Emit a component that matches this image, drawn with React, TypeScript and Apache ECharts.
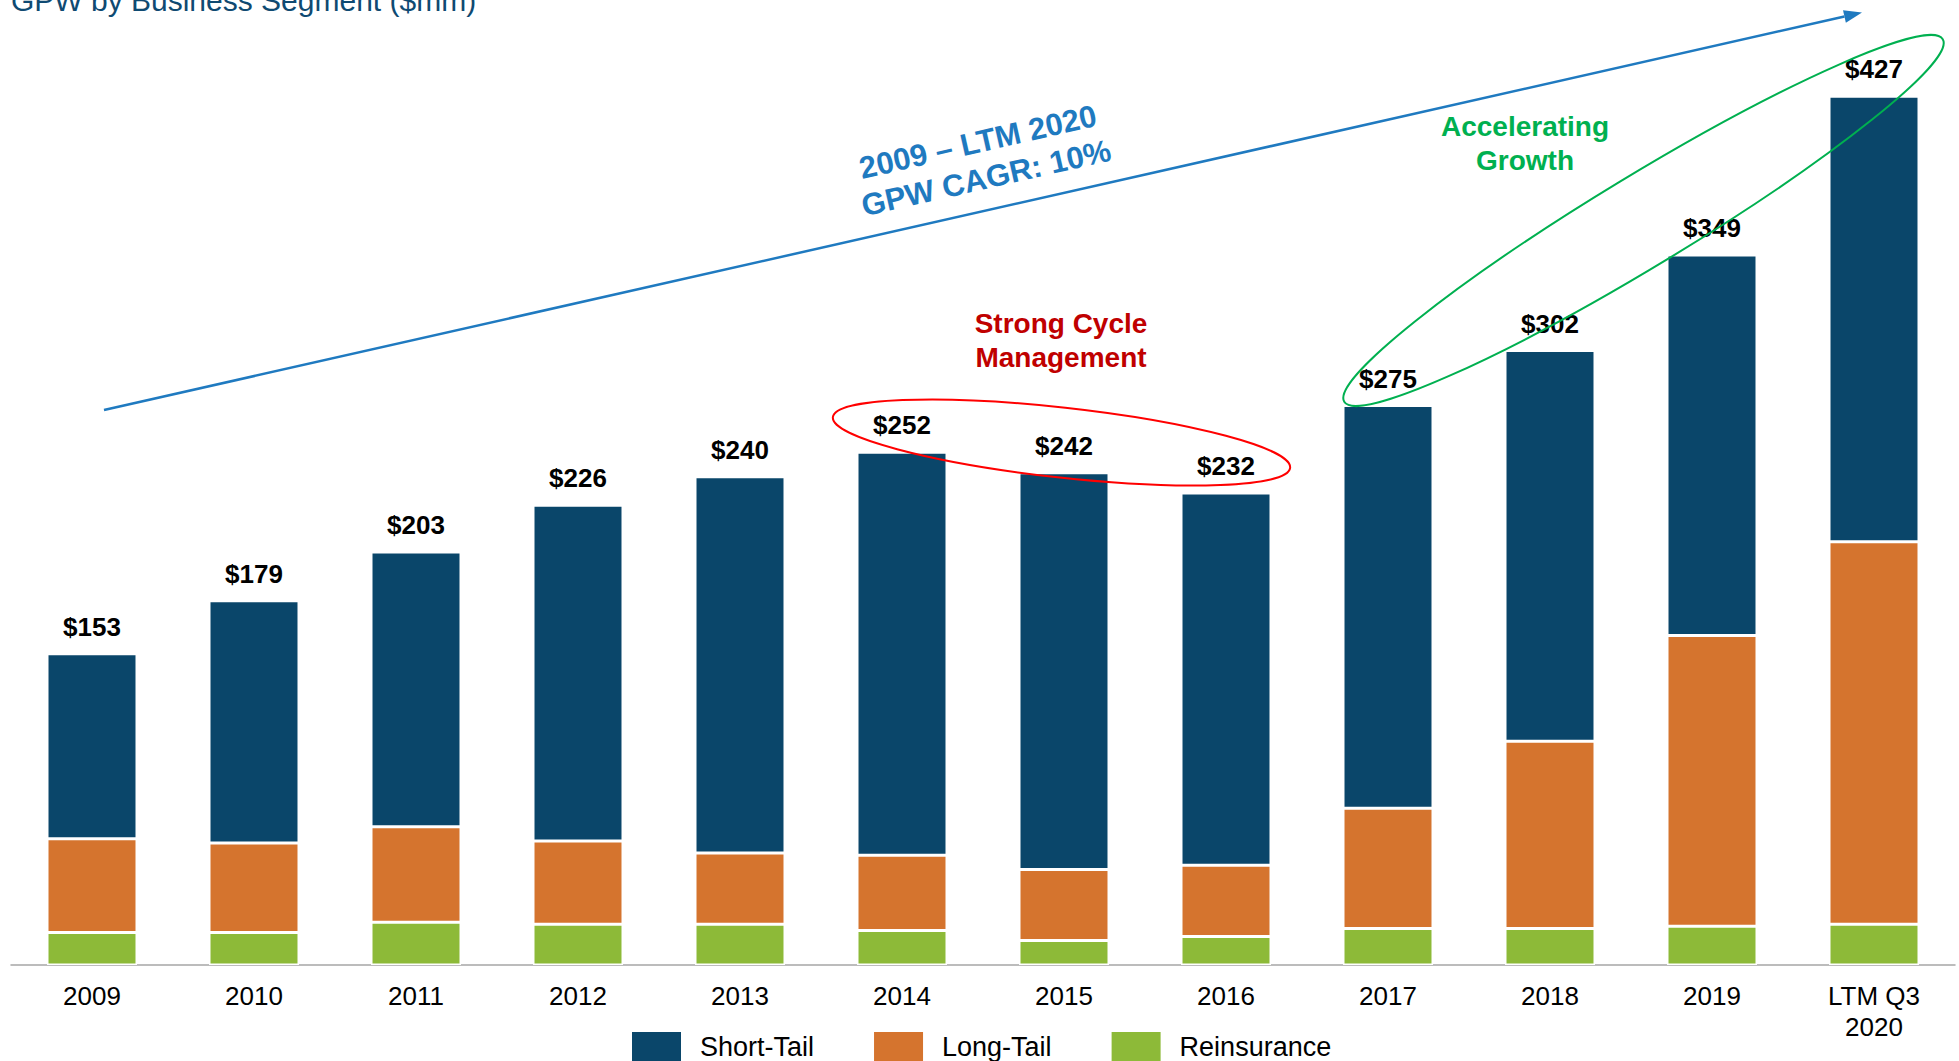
import React, { useEffect, useRef } from "react";
import * as echarts from "echarts";

const categories = ["2009", "2010", "2011", "2012", "2013", "2014", "2015", "2016", "2017", "2018", "2019", "LTM Q3\n2020"];
const reinsurance = [16, 16, 21, 20, 20, 17, 12, 14, 18, 18, 19, 20];
const longTail = [46, 44, 47, 41, 35, 37, 35, 35, 59, 92, 143, 188];
const shortTail = [91, 119, 135, 165, 185, 198, 195, 183, 198, 192, 187, 219];
const totals = [153, 179, 203, 226, 240, 252, 242, 232, 275, 302, 349, 427];
const seriesNames = ["Short-Tail", "Long-Tail", "Reinsurance"];

const FONT = '"Liberation Sans", Arial, sans-serif';
const NAVY = "#0a466a";
const ORANGE = "#d5742e";
const GREEN = "#8dba38";
const ARROW_BLUE = "#1f7ac0";

export default function App() {
  const ref = useRef<HTMLDivElement>(null);

  useEffect(() => {
    if (!ref.current) return;
    const chart = echarts.init(ref.current, undefined, { renderer: "svg" });

    // arrow geometry
    const sx = 104, sy = 410, ex = 1862, ey = 12.5;
    const len = Math.hypot(ex - sx, ey - sy);
    const ux = (ex - sx) / len, uy = (ey - sy) / len;
    const nx = -uy, ny = ux;
    const headLen = 18, headHalf = 6.5;
    const bx = ex - headLen * ux, by = ey - headLen * uy;

    const barItem = (color: string) => ({ color, borderColor: "#ffffff", borderWidth: 1.5 });

    chart.setOption({
      animation: false,
      backgroundColor: "#ffffff",
      textStyle: { fontFamily: FONT },
      grid: { left: 11, right: 4, top: 51.5, bottom: 96, containLabel: false },
      legend: {
        data: seriesNames,
        left: 632,
        top: 1032,
        padding: 0,
        itemWidth: 49,
        itemHeight: 30,
        itemGap: 60,
        selectedMode: false,
        icon: "rect",
        itemStyle: { borderWidth: 0 },
        textStyle: { fontSize: 27, color: "#000000", fontFamily: FONT, padding: [0, 0, 0, 14] },
      },
      xAxis: {
        type: "category",
        data: categories,
        axisLine: { show: true, lineStyle: { color: "#a6a6a6", width: 1.5 } },
        axisTick: { show: false },
        axisLabel: { fontSize: 26, color: "#000000", margin: 15, lineHeight: 31, fontFamily: FONT, interval: 0 },
      },
      yAxis: {
        type: "value",
        min: 0,
        max: 449,
        show: false,
        splitLine: { show: false },
      },
      series: [
        {
          name: "Reinsurance",
          type: "bar",
          stack: "gpw",
          barWidth: 90,
          data: reinsurance,
          itemStyle: barItem(GREEN),
        },
        {
          name: "Long-Tail",
          type: "bar",
          stack: "gpw",
          barWidth: 90,
          data: longTail,
          itemStyle: barItem(ORANGE),
        },
        {
          name: "Short-Tail",
          type: "bar",
          stack: "gpw",
          barWidth: 90,
          data: shortTail,
          itemStyle: barItem(NAVY),
          label: {
            show: true,
            position: "top",
            distance: 14,
            fontSize: 26,
            fontWeight: "bold",
            color: "#000000",
            fontFamily: FONT,
            formatter: (p: any) => "$" + totals[p.dataIndex],
          },
        },
      ],
      graphic: [
        {
          type: "text",
          x: 11,
          y: 0,
          style: {
            text: "GPW by Business Segment ($mm)",
            font: `30px ${FONT}`,
            fill: "#0f4a72",
            align: "left",
            verticalAlign: "middle",
          },
        },
        {
          type: "line",
          shape: { x1: sx, y1: sy, x2: bx, y2: by },
          style: { stroke: ARROW_BLUE, lineWidth: 2.5 },
        },
        {
          type: "polygon",
          shape: {
            points: [
              [ex, ey],
              [bx + headHalf * nx, by + headHalf * ny],
              [bx - headHalf * nx, by - headHalf * ny],
            ],
          },
          style: { fill: ARROW_BLUE },
        },
        {
          type: "text",
          x: 982,
          y: 160,
          rotation: Math.atan2(sy - ey, ex - sx),
          style: {
            text: "2009 – LTM 2020\nGPW CAGR: 10%",
            font: `bold 31px ${FONT}`,
            fill: ARROW_BLUE,
            align: "center",
            verticalAlign: "middle",
            lineHeight: 37,
          },
        },
        {
          type: "text",
          x: 1061,
          y: 340,
          style: {
            text: "Strong Cycle\nManagement",
            font: `bold 28px ${FONT}`,
            fill: "#c00000",
            align: "center",
            verticalAlign: "middle",
            lineHeight: 34,
          },
        },
        {
          type: "ellipse",
          x: 1061.5,
          y: 442.5,
          rotation: -0.11,
          shape: { cx: 0, cy: 0, rx: 230, ry: 35 },
          style: { fill: "none", stroke: "#ff0000", lineWidth: 2 },
          z: 10,
        },
        {
          type: "text",
          x: 1525,
          y: 143,
          style: {
            text: "Accelerating\nGrowth",
            font: `bold 28px ${FONT}`,
            fill: "#00b050",
            align: "center",
            verticalAlign: "middle",
            lineHeight: 34,
          },
        },
        {
          type: "ellipse",
          x: 1643.5,
          y: 220.5,
          rotation: 0.545,
          shape: { cx: 0, cy: 0, rx: 350, ry: 45.5 },
          style: { fill: "none", stroke: "#00b050", lineWidth: 2 },
          z: 10,
        },
      ],
    });

    return () => {
      chart.dispose();
    };
  }, []);

  return (
    <div
      ref={ref}
      style={{ position: "fixed", left: 0, top: 0, width: 1959, height: 1061, background: "#ffffff" }}
    />
  );
}
